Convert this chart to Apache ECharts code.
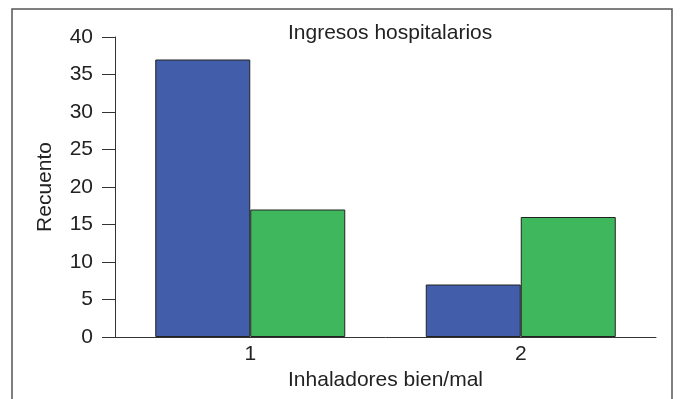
<!DOCTYPE html>
<html>
<head>
<meta charset="utf-8">
<script src="https://cdn.jsdelivr.net/npm/echarts@6/dist/echarts.min.js"></script>
<style>
  html, body { margin: 0; padding: 0; background: #fff; }
  #chart { width: 683px; height: 399px; }
</style>
</head>
<body>
<div id="chart"></div>
<script>
// Ingresos hospitalarios por inhaladores bien/mal
const categories = ['1', '2'];
const serieAzul = [37, 7];
const serieVerde = [17, 16];

const chart = echarts.init(document.getElementById('chart'));

const font = 'Liberation Sans, Arial, sans-serif';

const option = {
  animation: false,
  title: {
    text: 'Ingresos hospitalarios',
    left: 283,
    top: 18,
    textStyle: { fontFamily: font, fontSize: 21, fontWeight: 'normal', color: '#222' }
  },
  graphic: [{
    type: 'rect',
    shape: { x: 12, y: 9, width: 660, height: 400 },
    style: { fill: 'none', stroke: '#555', lineWidth: 1.5 },
    silent: true
  }],
  grid: { left: 115, right: 27, top: 37, bottom: 62 },
  xAxis: {
    type: 'category',
    data: categories,
    name: 'Inhaladores bien/mal',
    nameLocation: 'middle',
    nameGap: 29,
    nameTextStyle: { fontFamily: font, fontSize: 21, color: '#222' },
    axisLine: { lineStyle: { color: '#333', width: 1 } },
    axisTick: { length: 7, lineStyle: { color: '#333' } },
    axisLabel: { fontFamily: font, fontSize: 21, color: '#222', margin: 7 }
  },
  yAxis: {
    type: 'value',
    min: 0,
    max: 40,
    interval: 5,
    name: 'Recuento',
    nameLocation: 'middle',
    nameGap: 59,
    nameTextStyle: { fontFamily: font, fontSize: 21, color: '#222' },
    axisLine: { show: true, lineStyle: { color: '#333', width: 1 } },
    axisTick: { show: true, length: 13, lineStyle: { color: '#333' } },
    axisLabel: { fontFamily: font, fontSize: 21, color: '#222', margin: 22 },
    splitLine: { show: false }
  },
  series: [
    {
      type: 'bar',
      data: serieAzul,
      barWidth: 95,
      barGap: '0%',
      itemStyle: { color: '#425EAA', borderColor: '#222', borderWidth: 1 }
    },
    {
      type: 'bar',
      data: serieVerde,
      barWidth: 95,
      itemStyle: { color: '#3FB85D', borderColor: '#222', borderWidth: 1 }
    }
  ]
};

chart.setOption(option);
</script>
</body>
</html>
